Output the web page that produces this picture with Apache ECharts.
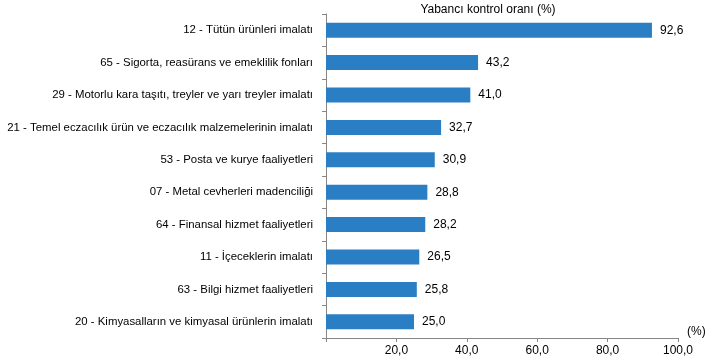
<!DOCTYPE html>
<html><head><meta charset="utf-8">
<script src="https://cdn.jsdelivr.net/npm/echarts@6/dist/echarts.min.js"></script>
<style>html,body{margin:0;padding:0;background:#fff}#c{width:709px;height:361px}</style>
</head><body><div id="c"></div>
<script>
const categories = [
  "12 - Tütün ürünleri imalatı",
  "65 - Sigorta, reasürans ve emeklilik fonları",
  "29 - Motorlu kara taşıtı, treyler ve yarı treyler imalatı",
  "21 - Temel eczacılık ürün ve eczacılık malzemelerinin imalatı",
  "53 - Posta ve kurye faaliyetleri",
  "07 - Metal cevherleri madenciliği",
  "64 - Finansal hizmet faaliyetleri",
  "11 - İçeceklerin imalatı",
  "63 - Bilgi hizmet faaliyetleri",
  "20 - Kimyasalların ve kimyasal ürünlerin imalatı"
];
const values = [92.6, 43.2, 41.0, 32.7, 30.9, 28.8, 28.2, 26.5, 25.8, 25.0];
const xTicks = [0, 20, 40, 60, 80, 100];

const fmt = v => v.toFixed(1).replace('.', ',');
const chart = echarts.init(document.getElementById('c'));
chart.setOption({
  animation: false,
  textStyle: {fontFamily: 'Liberation Sans, Arial, sans-serif'},
  title: {
    text: 'Yabancı kontrol oranı (%)', left: 483, top: -1, textAlign: 'center',
    textStyle: {fontSize: 12, fontWeight: 'normal', color: '#000'}
  },
  graphic: [{type: 'text', left: 687, top: 326, style: {text: '(%)', fontSize: 12, fill: '#000', font: '12px Liberation Sans'}}],
  grid: {left: 326, right: 31, top: 14, bottom: 23, containLabel: false},
  xAxis: {
    type: 'value', min: xTicks[0], max: xTicks[xTicks.length - 1], interval: 20,
    axisLine: {show: true, lineStyle: {color: '#868686'}},
    axisTick: {show: true, length: 4, lineStyle: {color: '#868686'}},
    splitLine: {show: false},
    axisLabel: {color: '#000', fontSize: 12, margin: 7, formatter: v => v === 0 ? '' : fmt(v)}
  },
  yAxis: {
    type: 'category', data: categories, inverse: true,
    axisLine: {show: true, lineStyle: {color: '#868686'}},
    axisTick: {show: true, length: 4, lineStyle: {color: '#868686'}},
    axisLabel: {color: '#000', fontSize: 11.4, margin: 13}
  },
  series: [{
    type: 'bar', data: values, barWidth: 15,
    itemStyle: {color: '#2A7FC4'},
    label: {show: true, position: 'right', distance: 8, color: '#000', fontSize: 12, formatter: p => fmt(p.value)}
  }]
});
</script></body></html>
